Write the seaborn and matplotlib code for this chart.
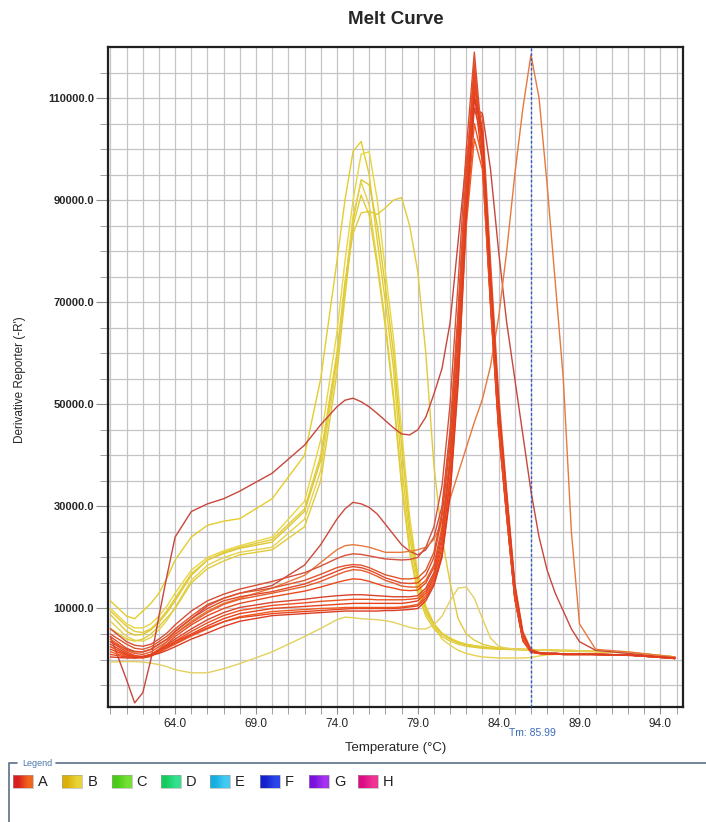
import numpy as np
import pandas as pd
import seaborn as sns
import matplotlib
matplotlib.use('Agg')
from matplotlib import pyplot as plt
from matplotlib.patches import Rectangle

# temperature grid (deg C) shared by every well
temps = [60, 61, 61.5, 62, 62.5, 63, 63.5, 64,
         65, 66, 67, 68, 70, 72, 73, 74,
         74.5, 75, 75.5, 76, 76.5, 77, 77.5, 78, 78.5, 79,
         79.5, 80, 80.5, 81, 81.5, 82, 82.5, 83, 83.5, 84, 84.5,
         85, 85.5, 86, 86.5, 87, 87.5, 88, 88.5, 89, 90, 92, 94.9]

# derivative reporter, in thousands, group B (yellow)
b1 = [11.5, 8.5, 8.0, 9.5, 11.0, 13.0, 16.0, 19.5,
      24.0, 26.3, 27.1, 27.6, 31.5, 40.0, 55.0, 78.0,
      90.0, 99.5, 101.5, 95.0, 82.0, 70.0, 57.0, 38.0, 24.0, 15.0,
      9.5, 6.5, 5.0, 4.0, 3.4, 3.0, 2.7, 2.5, 2.3, 2.2, 2.1,
      2.0, 2.0, 1.9, 1.9, 1.8, 1.8, 1.8, 1.7, 1.7, 1.6, 1.4, 0.5]
b2 = [10.0, 7.0, 6.2, 6.2, 7.0, 8.5, 10.5, 13.0,
      17.5, 20.0, 21.3, 22.3, 24.0, 31.0, 43.0, 64.0,
      78.0, 90.0, 99.0, 99.5, 90.0, 76.0, 63.0, 45.0, 28.0, 17.0,
      10.5, 7.0, 5.2, 4.2, 3.5, 3.0, 2.7, 2.5, 2.3, 2.2, 2.1,
      2.0, 2.0, 1.9, 1.9, 1.8, 1.8, 1.7, 1.7, 1.7, 1.6, 1.4, 0.5]
b3 = [8.8, 5.5, 4.8, 4.9, 5.8, 7.3, 9.2, 11.5,
      16.5, 19.5, 20.8, 21.8, 23.0, 29.0, 39.0, 59.0,
      73.0, 86.0, 94.0, 93.0, 85.0, 73.0, 60.0, 42.0, 26.0, 16.0,
      10.0, 7.0, 5.0, 4.0, 3.3, 2.9, 2.6, 2.4, 2.2, 2.1, 2.0,
      2.0, 1.9, 1.9, 1.8, 1.8, 1.8, 1.7, 1.7, 1.6, 1.6, 1.4, 0.5]
b4 = [7.5, 4.5, 3.8, 3.6, 4.3, 5.8, 7.7, 10.2,
      15.5, 18.5, 20.0, 21.0, 22.0, 27.5, 37.0, 58.0,
      73.0, 87.0, 93.5, 89.0, 78.0, 66.0, 52.0, 35.0, 22.0, 14.0,
      9.0, 6.5, 4.0, 2.8, 1.8, 1.2, 0.8, 0.5, 0.4, 0.3, 0.3,
      0.3, 0.3, 0.4, 0.7, 0.9, 1.0, 1.0, 1.0, 1.0, 1.0, 0.9, 0.4]
b5 = [6.1, 4.0, 3.6, 4.0, 5.0, 6.5, 8.2, 10.0,
      15.0, 17.8, 19.3, 20.5, 21.5, 26.0, 35.0, 56.0,
      71.0, 85.0, 91.0, 87.0, 77.0, 65.0, 51.0, 34.0, 21.0, 13.0,
      8.5, 6.0, 4.5, 3.6, 3.0, 2.6, 2.4, 2.2, 2.1, 2.0, 2.0,
      1.9, 1.9, 1.8, 1.8, 1.8, 1.7, 1.7, 1.6, 1.6, 1.5, 1.3, 0.5]
b6 = [9.5, 6.5, 5.5, 5.3, 6.0, 7.6, 9.6, 12.0,
      16.8, 19.5, 21.0, 22.0, 23.5, 29.5, 40.0, 60.0,
      74.0, 83.5, 87.5, 87.8, 87.2, 88.5, 90.0, 90.5, 85.0, 76.0,
      60.0, 38.0, 24.0, 15.0, 8.0, 5.0, 3.8, 3.0, 2.6, 2.3, 2.2,
      2.1, 2.0, 2.0, 1.9, 1.9, 1.8, 1.8, 1.8, 1.7, 1.6, 1.4, 0.5]
b7 = [-0.5, -0.4, -0.4, -0.5, -0.7, -1.0, -1.4, -2.0,
      -2.6, -2.6, -1.8, -0.8, 1.5, 4.5, 6.1, 7.8,
      8.3, 8.2, 8.0, 7.9, 7.8, 7.6, 7.3, 6.8, 6.3, 6.0,
      6.0, 6.8, 8.5, 11.5, 14.0, 14.2, 12.0, 8.0, 4.2, 2.6, 2.2,
      2.0, 2.0, 1.9, 1.9, 1.9, 1.8, 1.8, 1.8, 1.7, 1.6, 1.4, 0.5]

# group A (red / orange)
a1 = [4.5, -4.0, -8.5, -6.5, 0.0, 8.5, 16.5, 24.0,
      29.0, 30.5, 31.5, 33.0, 36.5, 42.0, 46.0, 49.5,
      50.8, 51.2, 50.5, 49.5, 48.2, 46.8, 45.4, 44.2, 44.0, 45.0,
      47.5, 52.0, 57.0, 66.0, 82.0, 98.0, 108.0, 107.0, 96.0, 80.0, 66.0,
      55.0, 44.0, 33.0, 24.0, 17.5, 13.0, 9.5, 6.0, 3.5, 1.8, 1.2, 0.3]
a2 = [3.5, 2.0, 1.5, 1.5, 2.0, 3.0, 4.0, 5.5,
      8.0, 10.5, 12.0, 13.0, 14.5, 18.5, 22.5, 27.5,
      29.5, 30.8, 30.5, 29.8, 28.5, 26.5, 24.5, 22.5, 21.2, 20.5,
      21.5, 24.0, 30.0, 45.0, 68.0, 96.0, 113.0, 102.0, 72.0, 46.0, 28.0,
      12.0, 4.0, 1.5, 1.2, 1.1, 1.1, 1.0, 1.0, 1.0, 1.0, 0.8, 0.3]
a3 = [2.5, 1.0, 0.5, 0.5, 1.0, 2.0, 3.5, 5.0,
      7.5, 9.5, 11.0, 12.0, 14.0, 16.5, 19.0, 21.5,
      22.3, 22.5, 22.3, 22.0, 21.5, 21.0, 21.0, 21.0, 21.2, 21.5,
      22.0, 23.5, 27.0, 31.5, 36.5, 41.5, 46.5, 51.0, 57.5, 67.0, 80.0,
      95.0, 108.0, 118.5, 110.0, 93.0, 74.0, 55.0, 25.0, 7.0, 2.0, 1.5, 0.5]
a4 = [6.0, 3.5, 2.8, 2.6, 3.0, 4.0, 5.2, 6.8,
      9.5, 11.5, 12.8, 13.8, 15.3, 17.0, 18.3, 19.8,
      20.4, 20.7, 20.6, 20.3, 20.0, 19.7, 19.6, 19.5, 19.6, 20.0,
      22.0, 26.0, 34.0, 50.0, 74.0, 100.0, 119.0, 101.0, 72.0, 48.0, 30.0,
      13.0, 4.5, 1.8, 1.3, 1.2, 1.2, 1.1, 1.1, 1.1, 1.0, 0.9, 0.3]
a5 = [5.0, 3.0, 2.2, 2.0, 2.5, 3.5, 4.6, 6.0,
      8.5, 10.8, 12.0, 13.0, 14.0, 15.5, 16.7, 18.0,
      18.4, 18.6, 18.5, 18.0, 17.3, 16.6, 16.2, 15.8, 15.8, 16.0,
      17.5, 21.0, 29.0, 44.0, 68.0, 96.0, 117.0, 98.0, 70.0, 46.0, 29.0,
      12.0, 4.0, 1.6, 1.2, 1.1, 1.1, 1.0, 1.0, 1.0, 1.0, 0.9, 0.2]
a6 = [4.5, 2.2, 1.6, 1.5, 2.0, 3.0, 4.0, 5.5,
      8.0, 10.0, 11.5, 12.3, 13.3, 14.8, 16.0, 17.3,
      17.9, 18.2, 18.0, 17.5, 16.8, 16.0, 15.5, 15.0, 14.9, 15.0,
      16.5, 20.0, 28.0, 42.0, 66.0, 94.0, 112.0, 104.0, 76.0, 50.0, 32.0,
      14.0, 5.0, 1.8, 1.3, 1.2, 1.2, 1.1, 1.1, 1.1, 1.0, 0.9, 0.3]
a7 = [4.0, 1.8, 1.2, 1.0, 1.5, 2.5, 3.5, 5.0,
      7.2, 9.2, 10.8, 11.8, 13.0, 14.3, 15.3, 16.6,
      17.2, 17.6, 17.5, 17.0, 16.3, 15.5, 15.0, 14.4, 14.2, 14.2,
      15.5, 18.5, 26.0, 40.0, 62.0, 90.0, 110.0, 106.0, 78.0, 52.0, 33.0,
      15.0, 5.5, 2.0, 1.4, 1.2, 1.2, 1.1, 1.1, 1.1, 1.0, 0.9, 0.3]
a8 = [3.5, 1.5, 0.8, 0.6, 1.0, 2.0, 3.0, 4.5,
      6.8, 8.6, 10.0, 11.0, 12.3, 13.4, 14.2, 15.1,
      15.5, 15.8, 15.7, 15.3, 14.8, 14.3, 14.0, 13.6, 13.5, 13.6,
      15.0, 18.0, 25.0, 39.0, 63.0, 93.0, 114.0, 100.0, 71.0, 47.0, 30.0,
      13.0, 4.2, 1.6, 1.2, 1.1, 1.1, 1.0, 1.0, 1.0, 1.0, 0.9, 0.2]
a9 = [3.0, 1.2, 0.6, 0.4, 0.8, 1.8, 2.8, 4.0,
      6.0, 7.8, 9.2, 10.2, 11.2, 11.8, 12.2, 12.5,
      12.6, 12.7, 12.7, 12.6, 12.5, 12.4, 12.3, 12.3, 12.3, 12.5,
      14.0, 17.0, 24.0, 38.0, 60.0, 88.0, 108.0, 102.0, 74.0, 49.0, 31.0,
      14.0, 4.8, 1.7, 1.3, 1.2, 1.2, 1.1, 1.1, 1.1, 1.0, 0.9, 0.3]
a10 = [2.5, 1.0, 0.5, 0.3, 0.6, 1.5, 2.5, 3.6,
       5.5, 7.2, 8.6, 9.6, 10.6, 11.1, 11.4, 11.6,
       11.7, 11.8, 11.8, 11.8, 11.7, 11.7, 11.7, 11.7, 11.8, 12.0,
       13.5, 16.5, 23.0, 36.0, 58.0, 86.0, 105.0, 98.0, 72.0, 48.0, 30.0,
       13.5, 4.5, 1.6, 1.2, 1.1, 1.1, 1.0, 1.0, 1.0, 1.0, 0.9, 0.2]
a11 = [2.0, 0.8, 0.4, 0.4, 0.8, 1.6, 2.5, 3.5,
       5.0, 6.6, 8.0, 9.0, 10.0, 10.4, 10.6, 10.8,
       10.9, 11.0, 11.0, 11.0, 11.0, 11.0, 11.0, 11.0, 11.2, 11.5,
       13.0, 16.0, 22.0, 35.0, 58.0, 89.0, 111.0, 97.0, 69.0, 45.0, 28.0,
       12.0, 3.8, 1.5, 1.2, 1.1, 1.1, 1.0, 1.0, 1.0, 1.0, 0.9, 0.2]
a12 = [1.5, 0.6, 0.3, 0.4, 0.8, 1.4, 2.2, 3.0,
       4.6, 6.0, 7.4, 8.4, 9.4, 9.8, 10.0, 10.1,
       10.2, 10.2, 10.2, 10.2, 10.2, 10.2, 10.2, 10.3, 10.5, 10.8,
       12.5, 15.5, 21.0, 33.0, 55.0, 85.0, 102.0, 96.0, 70.0, 46.0, 29.0,
       12.5, 4.0, 1.5, 1.2, 1.1, 1.1, 1.0, 1.0, 1.0, 1.0, 0.9, 0.2]
a13 = [1.0, 0.5, 0.4, 0.6, 1.0, 1.6, 2.4, 3.2,
       4.8, 6.2, 7.4, 8.2, 9.0, 9.4, 9.6, 9.8,
       9.9, 10.0, 10.0, 10.0, 10.0, 10.0, 10.0, 10.1, 10.3, 10.5,
       12.0, 15.0, 20.5, 33.0, 57.0, 92.0, 116.0, 99.0, 70.0, 45.0, 28.0,
       12.0, 3.6, 1.4, 1.2, 1.1, 1.1, 1.0, 1.0, 1.0, 1.0, 0.9, 0.2]
a14 = [0.5, 0.3, 0.3, 0.5, 0.8, 1.2, 1.8, 2.5,
       4.0, 5.2, 6.5, 7.5, 8.6, 9.0, 9.2, 9.4,
       9.5, 9.5, 9.5, 9.5, 9.5, 9.6, 9.6, 9.7, 9.8, 10.0,
       11.5, 14.5, 20.0, 32.0, 54.0, 87.0, 110.0, 103.0, 75.0, 50.0, 32.0,
       14.5, 5.0, 1.8, 1.3, 1.2, 1.2, 1.1, 1.1, 1.1, 1.0, 0.9, 0.3]

wells = ['B1', 'B2', 'B3', 'B4', 'B5', 'B6', 'B7',
         'A1', 'A2', 'A3', 'A4', 'A5', 'A6', 'A7', 'A8', 'A9', 'A10', 'A11', 'A12', 'A13', 'A14']
values = [b1, b2, b3, b4, b5, b6, b7,
          a1, a2, a3, a4, a5, a6, a7, a8, a9, a10, a11, a12, a13, a14]
line_colors = ['#e4cd2a', '#e8d640', '#dcc830', '#e6d24c', '#e0cc38', '#e2ca3a', '#e4d060',
               '#c8463c', '#cc4a3a', '#e8783c', '#d85038', '#e0542c', '#e04a28', '#e85a2a',
               '#ea4a1e', '#d8442e', '#ee5020', '#e6421c', '#f05a22', '#e8461e', '#dc3c24']

legend_labels = ['A', 'B', 'C', 'D', 'E', 'F', 'G', 'H']
legend_left = ['#d81e1e', '#dcae08', '#48cc18', '#14cc5c', '#14aee0', '#1420cc', '#7a10dc', '#dc0c84']
legend_right = ['#f0641e', '#e8d438', '#74e034', '#34e090', '#44caf0', '#2a46ea', '#a434f0', '#f03494']

tm = 85.99

frames = []
for w, v in zip(wells, values):
    frames.append(pd.DataFrame({'well': w, 'temp': temps, 'reporter': np.array(v) * 1000}))
df = pd.concat(frames, ignore_index=True)

sns.set_style('white')
plt.rcParams['font.family'] = ['Liberation Sans', 'DejaVu Sans']

fig = plt.figure(figsize=(7.06, 8.22), dpi=100)
W, H = 706, 822
ax = fig.add_axes([108 / W, 1 - 707 / H, 575 / W, 660 / H])

sns.lineplot(data=df, x='temp', y='reporter', hue='well', hue_order=wells,
             palette=dict(zip(wells, line_colors)), units='well', estimator=None,
             legend=False, linewidth=1.0, sort=False, ax=ax)

ax.set_xlim(59.85, 95.4)
ax.set_ylim(-9300, 120000)
ax.set_xticks(np.arange(64, 95, 5))
ax.set_xticklabels([f'{t:.1f}' for t in np.arange(64, 95, 5)], fontsize=8.5)
ax.set_xticks(np.arange(60, 96, 1), minor=True)
ax.set_yticks(np.arange(10000, 115000, 20000))
ax.set_yticklabels([f'{t:.1f}' for t in np.arange(10000, 115000, 20000)], fontsize=8, fontweight='bold')
ax.set_yticks(np.arange(-5000, 119000, 5000), minor=True)
ax.grid(which='both', color='#c4c4c8', linewidth=0.9)
ax.set_axisbelow(True)
ax.tick_params(axis='x', which='both', direction='out', length=5, color='#909090', pad=3, bottom=True)
ax.tick_params(axis='y', which='major', direction='out', length=9, color='#909090', pad=1, left=True)
ax.tick_params(axis='y', which='minor', direction='out', length=6, color='#909090', left=True)
ax.set_xlabel('')
ax.set_ylabel('')
for s in ax.spines.values():
    s.set_visible(True)
    s.set_color('#202020')
    s.set_linewidth(1.6)

ax.axvline(tm, color='#2f5fc4', linewidth=1.0, linestyle=(0, (2, 1.5)), zorder=5)

# overlay in pixel coordinates for the texts and legend panel
ov = fig.add_axes([0, 0, 1, 1])
ov.set_xlim(0, W)
ov.set_ylim(H, 0)
ov.axis('off')

ov.text(395.5, 20, 'Melt Curve', ha='center', va='center', fontsize=13.5, fontweight='bold')
ov.text(20, 380, "Derivative Reporter (-R')", rotation=90, ha='center', va='center', fontsize=8.5)
ov.text(395.5, 748, 'Temperature (°C)', ha='center', va='center', fontsize=9.5)
ov.text(532, 733, f'Tm: {tm:.2f}', ha='center', va='center', fontsize=7.5, color='#3a6ab8')

box_color = '#5a7088'
ov.plot([9, 9, 17], [H, 763, 763], color=box_color, linewidth=1.2)
ov.plot([56, W], [763, 763], color=box_color, linewidth=1.2)
ov.text(22, 763, 'Legend', ha='left', va='center', fontsize=6.5, color='#4a78a8')

for i, lab in enumerate(legend_labels):
    x0 = 13 + i * 49.3
    grad = np.array([[matplotlib.colors.to_rgb(legend_left[i]), matplotlib.colors.to_rgb(legend_right[i])]])
    ov.imshow(grad, extent=(x0, x0 + 20, 788, 775), aspect='auto', interpolation='bilinear')
    ov.add_patch(Rectangle((x0, 775), 20, 13, fill=False, edgecolor='#a0a0a0', linewidth=0.4))
    ov.text(x0 + 25, 782, lab, ha='left', va='center', fontsize=10.5, color='#202020')

ov.set_xlim(0, W)
ov.set_ylim(H, 0)

fig.savefig('out.png', dpi=100)
